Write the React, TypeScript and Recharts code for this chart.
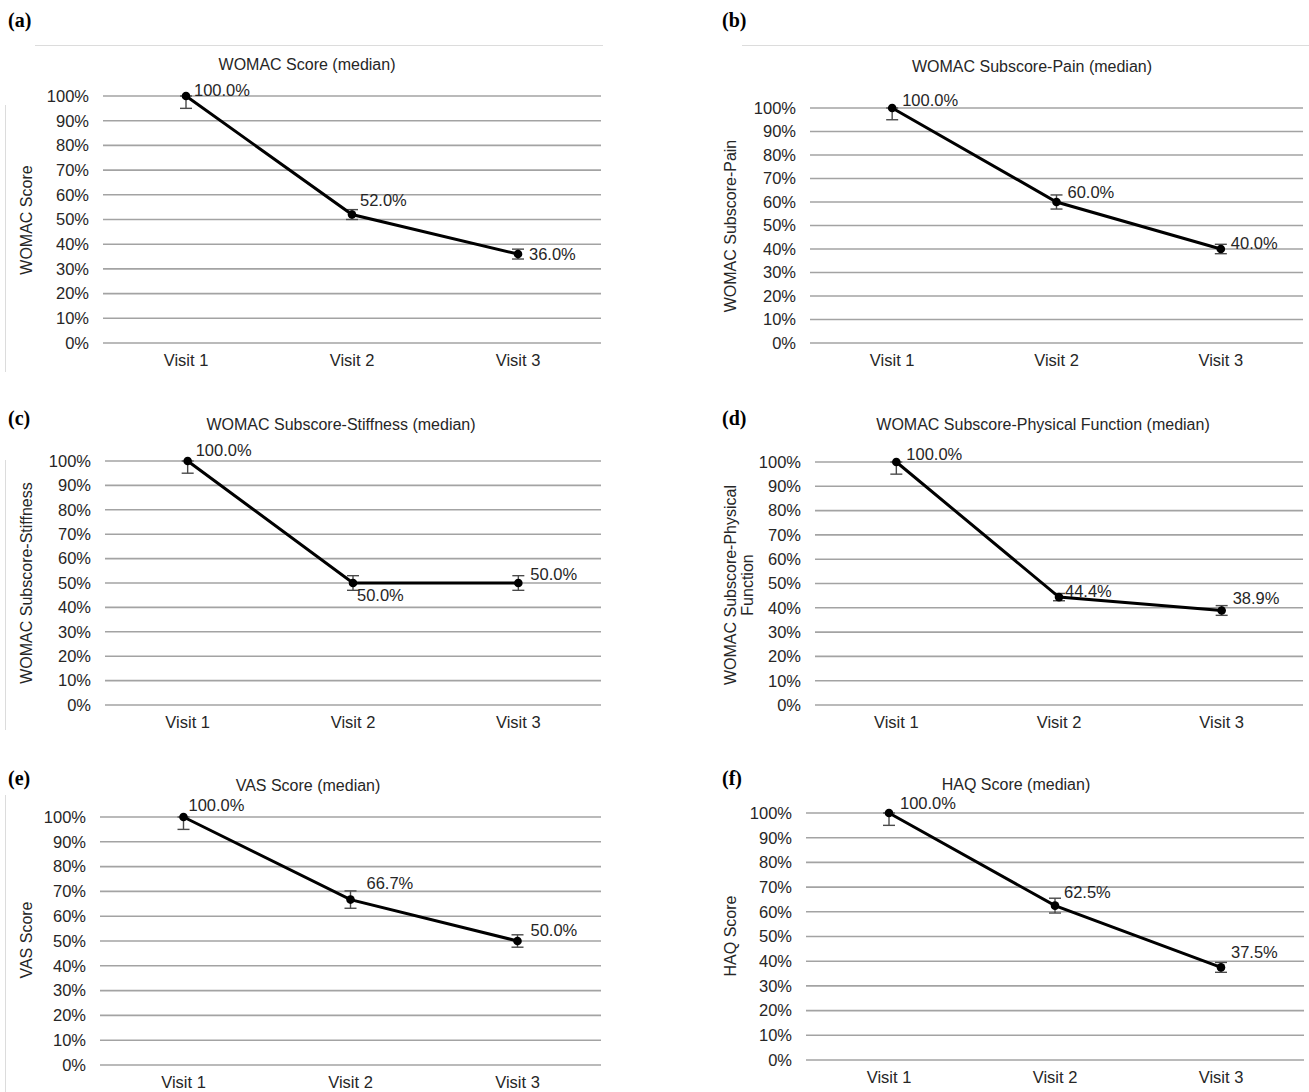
import React from 'react';
import { LineChart, Line, XAxis, YAxis, CartesianGrid, ErrorBar } from 'recharts';

// ---------- data ----------
const visits = ['Visit 1', 'Visit 2', 'Visit 3'];
const yTicks = [0, 10, 20, 30, 40, 50, 60, 70, 80, 90, 100];

const womacScore = [100.0, 52.0, 36.0];
const womacScoreErr: [number, number][] = [[5, 0], [2, 2], [2, 2]];

const womacPain = [100.0, 60.0, 40.0];
const womacPainErr: [number, number][] = [[5, 0], [3, 3], [2, 2]];

const womacStiffness = [100.0, 50.0, 50.0];
const womacStiffnessErr: [number, number][] = [[5, 0], [3, 3], [3, 3]];

const womacPhysical = [100.0, 44.4, 38.9];
const womacPhysicalErr: [number, number][] = [[5, 0], [1.5, 1.5], [2, 2]];

const vasScore = [100.0, 66.7, 50.0];
const vasScoreErr: [number, number][] = [[5, 0], [3.5, 3.5], [2.5, 2.5]];

const haqScore = [100.0, 62.5, 37.5];
const haqScoreErr: [number, number][] = [[5, 0], [3, 3], [2, 2]];

// ---------- panel layout (styles / positions only) ----------
type Panel = {
  tag: string;
  title: string;
  yLabel: string[];
  values: number[];
  errors: [number, number][];
  plot: { left: number; right: number; top: number; bottom: number };
  tagPos: { x: number; y: number };
  titlePos: { x: number; y: number };
  yLabelPos: { x: number; y: number };
  labelOffsets: [number, number][];
};

const panels: Panel[] = [
  {
    tag: '(a)', title: 'WOMAC Score (median)', yLabel: ['WOMAC Score'],
    values: womacScore, errors: womacScoreErr,
    plot: { left: 103, right: 601, top: 96, bottom: 343 },
    tagPos: { x: 8, y: 20 }, titlePos: { x: 307, y: 65 }, yLabelPos: { x: 27, y: 220 },
    labelOffsets: [[8, -6], [8, -14], [11, 0]],
  },
  {
    tag: '(b)', title: 'WOMAC Subscore-Pain (median)', yLabel: ['WOMAC Subscore-Pain'],
    values: womacPain, errors: womacPainErr,
    plot: { left: 810, right: 1303, top: 108, bottom: 343 },
    tagPos: { x: 722, y: 20 }, titlePos: { x: 1032, y: 67 }, yLabelPos: { x: 731, y: 226 },
    labelOffsets: [[10, -8], [11, -10], [10, -6]],
  },
  {
    tag: '(c)', title: 'WOMAC Subscore-Stiffness (median)', yLabel: ['WOMAC Subscore-Stiffness'],
    values: womacStiffness, errors: womacStiffnessErr,
    plot: { left: 105, right: 601, top: 461, bottom: 705 },
    tagPos: { x: 8, y: 418 }, titlePos: { x: 341, y: 425 }, yLabelPos: { x: 27, y: 583 },
    labelOffsets: [[8, -11], [4, 12], [12, -9]],
  },
  {
    tag: '(d)', title: 'WOMAC Subscore-Physical Function (median)', yLabel: ['WOMAC Subscore-Physical', 'Function'],
    values: womacPhysical, errors: womacPhysicalErr,
    plot: { left: 815, right: 1303, top: 462, bottom: 705 },
    tagPos: { x: 722, y: 418 }, titlePos: { x: 1043, y: 425 }, yLabelPos: { x: 740, y: 585 },
    labelOffsets: [[10, -8], [6, -6], [11, -12]],
  },
  {
    tag: '(e)', title: 'VAS Score (median)', yLabel: ['VAS Score'],
    values: vasScore, errors: vasScoreErr,
    plot: { left: 100, right: 601, top: 817, bottom: 1065 },
    tagPos: { x: 8, y: 778 }, titlePos: { x: 308, y: 786 }, yLabelPos: { x: 27, y: 940 },
    labelOffsets: [[5, -12], [16, -16], [13, -11]],
  },
  {
    tag: '(f)', title: 'HAQ Score (median)', yLabel: ['HAQ Score'],
    values: haqScore, errors: haqScoreErr,
    plot: { left: 806, right: 1304, top: 813, bottom: 1060 },
    tagPos: { x: 722, y: 778 }, titlePos: { x: 1016, y: 785 }, yLabelPos: { x: 731, y: 936 },
    labelOffsets: [[11, -10], [9, -14], [10, -15]],
  },
];

const FONT = '"Liberation Sans", Arial, sans-serif';
const TEXT = '#262626';
const GRID = '#a3a3a3';

const Y_AXIS_W = 60;
const M_TOP = 30;
const M_RIGHT = 6;
const X_AXIS_H = 30;

function PanelChart({ p }: { p: Panel }) {
  const data = visits.map((v, i) => ({ visit: v, value: p.values[i], err: p.errors[i] }));
  const W = p.plot.right - p.plot.left;
  const chartLeft = p.plot.left - Y_AXIS_W;
  const chartTop = p.plot.top - M_TOP;
  const width = p.plot.right + M_RIGHT - chartLeft;
  const height = p.plot.bottom + X_AXIS_H - chartTop;
  const pad = W / 6;

  const renderDot = (props: any) => {
    const { cx, cy, index, value } = props;
    const off = p.labelOffsets[index] || [8, -8];
    const v = Array.isArray(value) ? value[1] : value;
    return (
      <g key={`dot-${index}`}>
        <circle cx={cx} cy={cy} r={4.3} fill="#000" />
        <text
          x={cx + off[0]}
          y={cy + off[1] + 5.9}
          fontFamily={FONT}
          fontSize={16.5}
          fill={TEXT}
        >
          {`${Number(v).toFixed(1)}%`}
        </text>
      </g>
    );
  };

  return (
    <div style={{ position: 'absolute', left: chartLeft, top: chartTop }}>
      <LineChart
        width={width}
        height={height}
        data={data}
        margin={{ top: M_TOP, right: M_RIGHT, bottom: 0, left: 0 }}
      >
        <CartesianGrid vertical={false} stroke={GRID} strokeWidth={1.6} />
        <XAxis
          dataKey="visit"
          axisLine={false}
          tickLine={false}
          tickSize={0}
          tickMargin={11}
          height={X_AXIS_H}
          padding={{ left: pad, right: pad }}
          tick={{ fontFamily: FONT, fontSize: 16.5, fill: TEXT }}
          interval={0}
        />
        <YAxis
          domain={[0, 100]}
          ticks={yTicks}
          width={Y_AXIS_W}
          axisLine={false}
          tickLine={false}
          tickSize={0}
          tickMargin={14}
          interval={0}
          tickFormatter={(v: number) => `${v}%`}
          tick={{ fontFamily: FONT, fontSize: 16.5, fill: TEXT }}
        />
        <Line
          type="linear"
          dataKey="value"
          stroke="#000"
          strokeWidth={3}
          dot={renderDot}
          activeDot={false}
          isAnimationActive={false}
        >
          <ErrorBar dataKey="err" direction="y" width={6} stroke="#4a4a4a" strokeWidth={1.4} />
        </Line>
      </LineChart>
    </div>
  );
}

export default function App() {
  return (
    <div style={{ position: 'absolute', left: 0, top: 0, width: 1309, height: 1092, background: '#fff', overflow: 'hidden' }}>
      {/* faint frame fragments */}
      <div style={{ position: 'absolute', left: 35, top: 45, width: 568, height: 1, background: '#dcdcdc' }} />
      <div style={{ position: 'absolute', left: 742, top: 45, width: 567, height: 1, background: '#dcdcdc' }} />
      <div style={{ position: 'absolute', left: 5, top: 105, width: 1, height: 267, background: '#dcdcdc' }} />
      <div style={{ position: 'absolute', left: 5, top: 460, width: 1, height: 270, background: '#dcdcdc' }} />
      <div style={{ position: 'absolute', left: 5, top: 795, width: 1, height: 297, background: '#dcdcdc' }} />

      {panels.map((p) => (
        <React.Fragment key={p.tag}>
          <div
            style={{
              position: 'absolute', left: p.tagPos.x, top: p.tagPos.y - 12,
              fontFamily: '"Liberation Serif", "Times New Roman", serif', fontWeight: 'bold',
              fontSize: 20, lineHeight: '24px', color: '#000',
            }}
          >
            {p.tag}
          </div>
          <div
            style={{
              position: 'absolute', left: p.titlePos.x - 250, top: p.titlePos.y - 10, width: 500,
              textAlign: 'center', fontFamily: FONT, fontSize: 16, lineHeight: '20px', color: TEXT,
            }}
          >
            {p.title}
          </div>
          <div
            style={{
              position: 'absolute', left: p.yLabelPos.x - 150, top: p.yLabelPos.y - 9 * p.yLabel.length,
              width: 300, height: 18 * p.yLabel.length, transform: 'rotate(-90deg)', transformOrigin: '50% 50%',
              textAlign: 'center', fontFamily: FONT, fontSize: 16, lineHeight: '17px', color: TEXT,
            }}
          >
            {p.yLabel.map((l) => (
              <div key={l}>{l}</div>
            ))}
          </div>
          <PanelChart p={p} />
        </React.Fragment>
      ))}
    </div>
  );
}
